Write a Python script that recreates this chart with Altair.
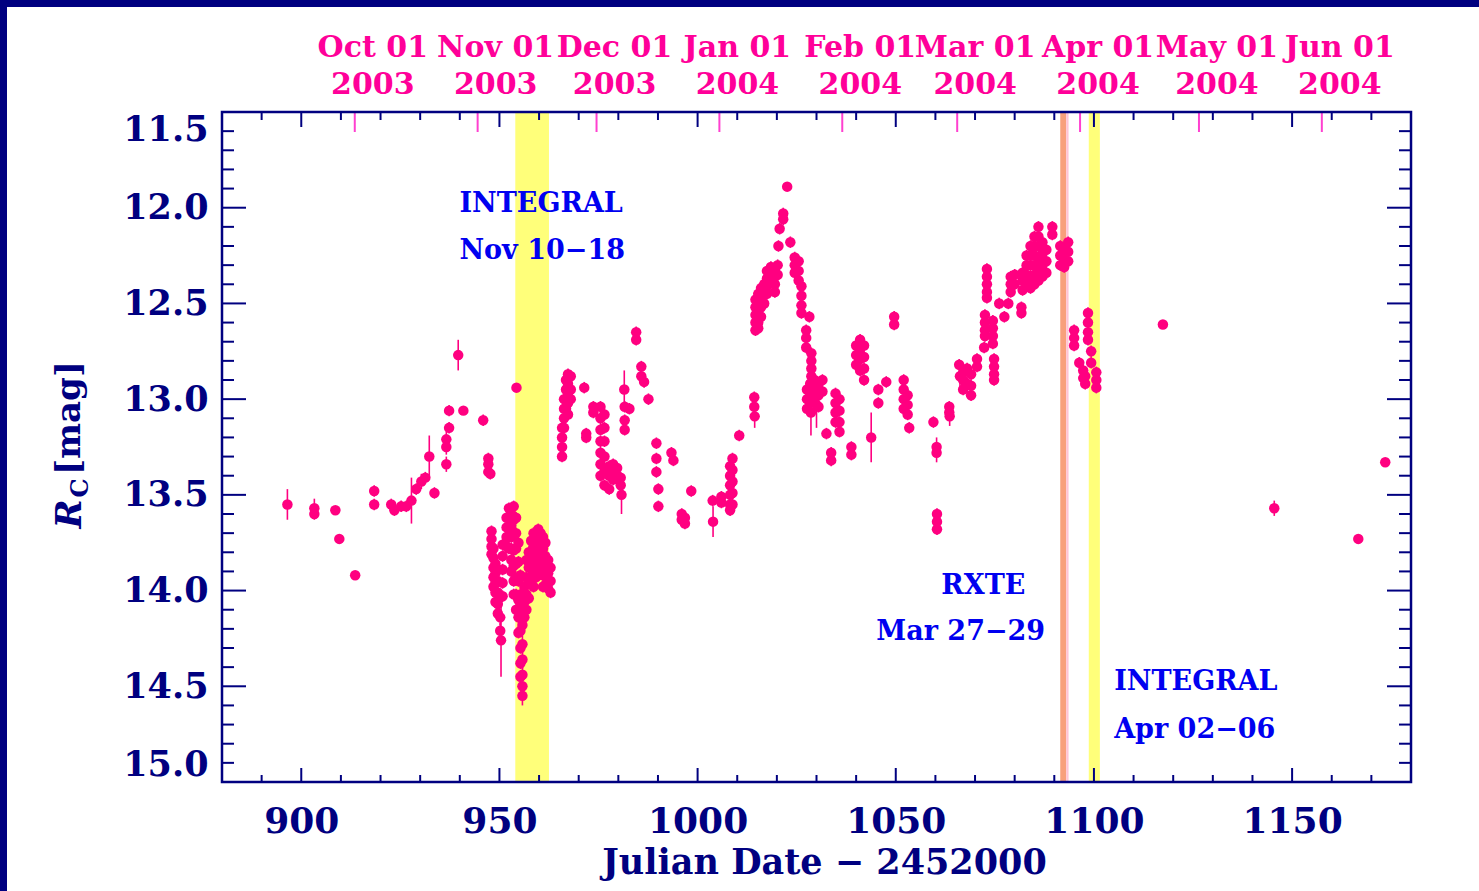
import altair as alt
import numpy as np
import pandas as pd

# ---------------------------------------------------------------------------
# Rc light curve.  Each night: (JD - 2452000, [Rc magnitudes], 1-sigma error)
# ---------------------------------------------------------------------------
PRE_OUTBURST = [
    (896.5, [13.55], 0.08),
    (903.3, [13.57], 0.05),
    (903.3, [13.60], 0.03),
    (908.6, [13.58], 0.02),
    (909.6, [13.73], 0.02),
    (913.6, [13.92], 0.02),
    (918.4, [13.48, 13.55], 0.03),
    (922.7, [13.55], 0.03),
    (923.5, [13.58], 0.03),
    (925.2, [13.56], 0.03),
    (926.5, [13.56], 0.03),
    (927.8, [13.53], 0.12),
    (929.0, [13.47], 0.03),
    (930.3, [13.43], 0.04),
    (931.3, [13.41], 0.03),
    (932.3, [13.30], 0.11),
    (933.6, [13.49], 0.03),
    (936.6, [13.21, 13.25, 13.34], 0.04),
    (937.3, [13.06, 13.15], 0.03),
    (939.6, [12.77], 0.08),
    (940.9, [13.06], 0.02),
    (945.9, [13.11], 0.03),
    (947.2, [13.31, 13.34, 13.38], 0.03),
    (947.7, [13.39], 0.03),
    (954.3, [12.94], 0.02),
]

DIP = [
    (948.0, [13.69, 13.73, 13.77, 13.81], 0.03),
    (948.5, [13.78, 13.83, 13.88, 13.93, 13.98], 0.03),
    (949.0, [13.86, 13.91, 13.96, 14.01, 14.06], 0.03),
    (949.6, [13.95, 14.01, 14.07, 14.12], 0.03),
    (950.2, [14.14, 14.21], 0.04),
    (950.4, [14.26], 0.19),
    (950.8, [13.76, 13.82, 13.89, 13.96, 14.03], 0.03),
    (951.8, [13.62, 13.67, 13.72, 13.77], 0.03),
    (952.4, [13.57, 13.62, 13.67, 13.72, 13.78], 0.03),
    (953.0, [13.60, 13.66, 13.72, 13.78, 13.84, 13.90], 0.03),
    (953.6, [13.56, 13.63, 13.71, 13.79, 13.87, 13.95, 14.02], 0.03),
    (954.2, [13.62, 13.70, 13.78, 13.86, 13.94, 14.02, 14.10], 0.03),
    (954.8, [13.75, 13.85, 13.95, 14.05, 14.14, 14.22], 0.03),
    (955.3, [13.92, 14.02, 14.12, 14.21, 14.30, 14.38, 14.45], 0.03),
    (955.8, [14.08, 14.18, 14.28, 14.36, 14.44, 14.50, 14.55], 0.05),
    (956.3, [13.98, 14.06, 14.14], 0.03),
    (956.8, [13.84, 13.93, 14.02, 14.10], 0.03),
    (957.4, [13.80, 13.88, 13.96, 14.04], 0.03),
    (958.0, [13.74, 13.81, 13.88, 13.95], 0.03),
    (958.6, [13.70, 13.77, 13.84, 13.91, 13.98], 0.03),
    (959.2, [13.72, 13.79, 13.86, 13.93], 0.03),
    (959.8, [13.68, 13.74, 13.80, 13.86, 13.92], 0.03),
    (960.4, [13.70, 13.76, 13.82, 13.88], 0.03),
    (961.0, [13.72, 13.78, 13.85, 13.92, 13.98], 0.03),
    (961.6, [13.75, 13.82, 13.90, 13.97], 0.03),
    (962.3, [13.84, 13.91, 13.99], 0.03),
    (962.9, [13.88, 13.95, 14.01], 0.03),
]

RECOVERY = [
    (965.8, [13.15, 13.20, 13.25, 13.30], 0.03),
    (966.3, [13.00, 13.05, 13.10, 13.15], 0.03),
    (966.8, [12.90, 12.95, 13.00, 13.05], 0.03),
    (967.3, [12.87, 12.92, 12.97, 13.02, 13.08], 0.03),
    (968.0, [12.88, 12.95, 13.00], 0.03),
    (971.4, [12.94], 0.03),
    (971.9, [13.18, 13.20], 0.03),
    (973.7, [13.04, 13.07], 0.03),
    (975.5, [13.04, 13.10, 13.16, 13.22, 13.28, 13.34, 13.40], 0.03),
    (976.5, [13.08, 13.15, 13.22, 13.30, 13.38, 13.45], 0.03),
    (977.7, [13.35, 13.40, 13.47], 0.03),
    (978.7, [13.34, 13.38, 13.42], 0.03),
    (979.7, [13.36, 13.40], 0.03),
    (980.6, [13.41, 13.45], 0.03),
    (980.8, [13.50], 0.10),
    (981.5, [12.95], 0.10),
    (981.6, [13.04, 13.11, 13.16], 0.03),
    (982.8, [13.05], 0.03),
    (984.5, [12.65, 12.69], 0.03),
    (985.8, [12.83, 12.88], 0.03),
    (986.5, [12.91], 0.03),
    (987.6, [13.00], 0.03),
    (989.6, [13.23, 13.31, 13.38], 0.03),
    (990.1, [13.47, 13.56], 0.03),
    (993.4, [13.28], 0.03),
    (993.9, [13.32], 0.03),
    (996.0, [13.60, 13.63], 0.03),
    (996.8, [13.62, 13.65], 0.03),
    (998.4, [13.48], 0.03),
    (1003.8, [13.53], 0.03),
    (1003.9, [13.64], 0.08),
    (1006.0, [13.51, 13.54], 0.03),
    (1008.2, [13.35, 13.40, 13.45, 13.50, 13.55, 13.58], 0.03),
    (1008.8, [13.31, 13.37, 13.43, 13.49, 13.55], 0.03),
    (1010.5, [13.19], 0.03),
]

OUTBURST = [
    (1014.3, [12.99, 13.04], 0.03),
    (1014.4, [13.09], 0.06),
    (1014.6, [12.48, 12.52, 12.56, 12.60, 12.64], 0.03),
    (1015.3, [12.45, 12.50, 12.55, 12.60, 12.63], 0.03),
    (1016.0, [12.42, 12.47, 12.52, 12.57], 0.03),
    (1016.8, [12.40, 12.45, 12.50], 0.03),
    (1017.5, [12.33, 12.37, 12.41, 12.45], 0.03),
    (1018.5, [12.31, 12.35, 12.39], 0.03),
    (1019.5, [12.32, 12.36, 12.40, 12.44], 0.03),
    (1020.2, [12.30, 12.35], 0.03),
    (1020.4, [12.20], 0.03),
    (1020.7, [12.11], 0.03),
    (1021.6, [12.03, 12.06], 0.03),
    (1022.6, [11.89], 0.02),
    (1023.4, [12.18], 0.03),
    (1024.5, [12.26, 12.30, 12.34], 0.03),
    (1025.5, [12.28, 12.33, 12.38], 0.03),
    (1026.2, [12.41, 12.46, 12.51, 12.55], 0.03),
    (1027.4, [12.64, 12.68, 12.73], 0.03),
    (1027.6, [12.95, 13.00, 13.05], 0.03),
    (1028.2, [12.57], 0.03),
    (1028.4, [12.92, 12.97, 13.02], 0.03),
    (1028.6, [13.07], 0.12),
    (1028.7, [12.76, 12.80, 12.84, 12.88], 0.03),
    (1029.5, [12.90, 12.95, 13.00], 0.03),
    (1030.0, [13.03], 0.12),
    (1030.5, [12.92, 12.98, 13.04], 0.03),
    (1031.5, [12.90, 12.96], 0.03),
    (1032.5, [13.18], 0.03),
    (1033.7, [13.28, 13.32], 0.03),
    (1034.8, [12.97, 13.02, 13.07, 13.12], 0.03),
    (1035.8, [13.00, 13.06, 13.12, 13.17], 0.03),
    (1038.8, [13.25, 13.29], 0.03),
    (1040.0, [12.72, 12.77, 12.82], 0.03),
    (1041.0, [12.69, 12.74, 12.79, 12.85], 0.03),
    (1042.0, [12.72, 12.78, 12.84, 12.90], 0.03),
    (1043.8, [13.20], 0.13),
    (1045.6, [12.95, 13.02], 0.03),
    (1047.6, [12.91], 0.03),
    (1049.6, [12.57, 12.61], 0.03),
    (1052.0, [12.90, 12.95, 13.00, 13.05], 0.03),
    (1053.0, [12.98, 13.03, 13.08], 0.03),
    (1053.4, [13.15], 0.03),
    (1059.5, [13.12], 0.03),
    (1060.3, [13.25, 13.28], 0.05),
    (1060.4, [13.60, 13.64, 13.68], 0.03),
    (1063.5, [13.04, 13.07], 0.03),
    (1063.6, [13.09], 0.05),
]

RISE = [
    (1066.0, [12.82], 0.03),
    (1066.2, [12.88], 0.08),
    (1067.0, [12.86, 12.90, 12.95], 0.03),
    (1068.0, [12.84, 12.92], 0.03),
    (1069.0, [12.87, 12.93, 12.98], 0.03),
    (1070.5, [12.79, 12.83], 0.03),
    (1072.3, [12.73], 0.03),
    (1072.5, [12.56, 12.60, 12.64, 12.67], 0.03),
    (1073.0, [12.32, 12.36, 12.40, 12.44, 12.47], 0.03),
    (1074.5, [12.59, 12.63, 12.67, 12.71], 0.03),
    (1074.8, [12.79, 12.83, 12.87, 12.90], 0.03),
    (1076.1, [12.50], 0.03),
    (1077.4, [12.57], 0.03),
    (1078.4, [12.50], 0.03),
    (1079.0, [12.36, 12.40, 12.44], 0.03),
    (1080.0, [12.35, 12.40], 0.03),
    (1081.7, [12.52, 12.55], 0.03),
    (1082.0, [12.34, 12.38, 12.43], 0.03),
    (1083.0, [12.25, 12.30, 12.35, 12.40], 0.03),
    (1084.0, [12.20, 12.25, 12.30, 12.36, 12.42], 0.03),
    (1085.0, [12.15, 12.20, 12.25, 12.30, 12.35, 12.40], 0.03),
    (1086.0, [12.10, 12.15, 12.20, 12.26, 12.32, 12.38], 0.03),
    (1087.0, [12.18, 12.24, 12.30, 12.36], 0.03),
    (1088.0, [12.22, 12.28, 12.34], 0.03),
    (1089.5, [12.10, 12.14], 0.03),
    (1091.5, [12.20, 12.25, 12.30], 0.03),
    (1092.5, [12.22, 12.27, 12.31], 0.03),
    (1093.5, [12.18, 12.23, 12.28], 0.03),
    (1095.0, [12.64, 12.68, 12.72], 0.03),
    (1096.3, [12.81], 0.03),
    (1097.3, [12.85, 12.89], 0.03),
    (1097.8, [12.88, 12.92], 0.03),
    (1098.5, [12.55, 12.60, 12.65, 12.69], 0.03),
    (1099.3, [12.75, 12.81], 0.03),
    (1100.6, [12.86, 12.90, 12.94], 0.03),
]

LATE = [
    (1117.4, [12.61], 0.02),
    (1145.5, [13.57], 0.04),
    (1166.7, [13.73], 0.02),
    (1173.5, [13.33], 0.02),
]

# Observation windows (JD - 2452000)
BAND_START = [954.0, 1091.5, 1093.0, 1098.7]
BAND_END = [962.5, 1093.0, 1093.6, 1101.5]
BAND_COLOR = ["#ffff7a", "#f8a07c", "#ffc4d6", "#ffff7a"]

# Labels of the observation windows
NOTE_TEXT = ["INTEGRAL", "Nov 10−18", "RXTE", "Mar 27−29", "INTEGRAL", "Apr 02−06"]
NOTE_JD = [939.9, 939.9, 1061.5, 1045.1, 1105.1, 1105.1]
NOTE_MAG = [12.02, 12.27, 14.02, 14.26, 14.52, 14.77]

# Calendar axis along the top
MONTH_JD = [913.5, 944.5, 974.5, 1005.5, 1036.5, 1065.5, 1096.5, 1126.5, 1157.5]
MONTH_NAME = ["Oct 01", "Nov 01", "Dec 01", "Jan 01", "Feb 01",
              "Mar 01", "Apr 01", "May 01", "Jun 01"]
MONTH_YEAR = ["2003", "2003", "2003", "2004", "2004",
              "2004", "2004", "2004", "2004"]

# Axis ticks
X_LABELS = [900, 950, 1000, 1050, 1100, 1150]
Y_LABELS = [11.5, 12.0, 12.5, 13.0, 13.5, 14.0, 14.5, 15.0]
X_DOMAIN = [880, 1180]
Y_DOMAIN = [11.5, 15.0]

# ---------------------------------------------------------------------------
W, H = 1189, 670
PAD = {"left": 222, "top": 112, "right": 68, "bottom": 109}
FONT = "DejaVu Serif"
NAVY = "#000080"
BLUE = "#0000f0"
PINK = "#ff0080"
MAGENTA = "#ff0099"
TICK_PINK = "#ff40d0"
X_TITLE = "Julian Date − 2452000"

rows = []
for segment in (PRE_OUTBURST, DIP, RECOVERY, OUTBURST, RISE, LATE):
    for jd, mags, err in segment:
        for m in mags:
            rows.append({"jd": jd, "rc": m, "lo": m - err, "hi": m + err})
lc = pd.DataFrame(rows)

bands = pd.DataFrame({"jd": BAND_START, "jd2": BAND_END, "color": BAND_COLOR})
notes = pd.DataFrame({"jd": NOTE_JD, "rc": NOTE_MAG, "label": NOTE_TEXT})
months = pd.DataFrame({"jd": MONTH_JD, "name": MONTH_NAME, "year": MONTH_YEAR})

x_major = pd.DataFrame({"jd": X_LABELS})
x_minor = pd.DataFrame({"jd": [v for v in range(880, 1181, 10) if v % 50 != 0]})
y_major = pd.DataFrame({"rc": Y_LABELS})
y_minor_vals = [round(v, 1) for v in np.arange(11.6, 15.0, 0.1)]
y_minor = pd.DataFrame({"rc": [v for v in y_minor_vals if round(v * 2) != v * 2]})
one = pd.DataFrame({"k": [0]})

xs = alt.Scale(domain=X_DOMAIN, nice=False, zero=False)
ys = alt.Scale(domain=Y_DOMAIN, nice=False, zero=False, reverse=True)

X_AXIS = alt.Axis(
    values=X_LABELS, format="d", ticks=False, tickSize=0, domain=False, grid=False,
    labelFont=FONT, labelFontSize=36, labelFontWeight="bold", labelColor=NAVY,
    labelPadding=22, titleFont=FONT, titleFontSize=35, titleFontWeight="bold",
    titleColor=NAVY, titlePadding=6, titleX=602, zindex=1,
)
Y_AXIS = alt.Axis(
    values=Y_LABELS, format=".1f", ticks=False, tickSize=0, domain=False, grid=False,
    labelFlush=True, labelFont=FONT, labelFontSize=35, labelFontWeight="bold",
    labelColor=NAVY, labelPadding=14, zindex=1,
)


def xq(field="jd:Q"):
    # every layer shares one x scale and the same bottom axis
    return alt.X(field, scale=xs, axis=X_AXIS, title=X_TITLE)


def yq(field="rc:Q"):
    # every layer shares one reversed magnitude scale and the same left axis
    return alt.Y(field, scale=ys, axis=Y_AXIS, title=None)


# Dark-blue page border (top and left)
border_top = alt.Chart(one).mark_rect(color=NAVY).encode(
    x=alt.value(-PAD["left"]), x2=alt.value(W + PAD["right"]),
    y=alt.value(-PAD["top"]), y2=alt.value(-PAD["top"] + 7),
)
border_left = alt.Chart(one).mark_rect(color=NAVY).encode(
    x=alt.value(-PAD["left"]), x2=alt.value(-PAD["left"] + 7),
    y=alt.value(-PAD["top"]), y2=alt.value(H + PAD["bottom"]),
)

band_layer = alt.Chart(bands).mark_rect().encode(
    x=xq(), x2="jd2:Q", y=alt.value(0), y2=alt.value(H),
    color=alt.Color("color:N", scale=None),
)

err_layer = alt.Chart(lc).mark_rule(color=PINK, strokeWidth=1.6).encode(
    x=xq(), y=yq("lo:Q"), y2="hi:Q",
)

pts_layer = alt.Chart(lc).mark_circle(color=PINK, size=110, opacity=1).encode(
    x=xq(), y=yq(),
)

note_layer = alt.Chart(notes).mark_text(
    align="left", baseline="alphabetic", font=FONT, fontSize=27,
    fontWeight="bold", color=BLUE,
).encode(x=xq(), y=yq(), text="label:N")

# Inward-pointing ticks on all four sides
bx_major = alt.Chart(x_major).mark_rule(color=NAVY, strokeWidth=2).encode(
    x=xq(), y=alt.value(H), y2=alt.value(H - 14))
bx_minor = alt.Chart(x_minor).mark_rule(color=NAVY, strokeWidth=2).encode(
    x=xq(), y=alt.value(H), y2=alt.value(H - 7))
tx_major = alt.Chart(x_major).mark_rule(color=NAVY, strokeWidth=2).encode(
    x=xq(), y=alt.value(0), y2=alt.value(15))
tx_minor = alt.Chart(x_minor).mark_rule(color=NAVY, strokeWidth=2).encode(
    x=xq(), y=alt.value(0), y2=alt.value(8))
ly_major = alt.Chart(y_major).mark_rule(color=NAVY, strokeWidth=2).encode(
    y=yq(), x=alt.value(0), x2=alt.value(24))
ly_minor = alt.Chart(y_minor).mark_rule(color=NAVY, strokeWidth=2).encode(
    y=yq(), x=alt.value(0), x2=alt.value(12))
ry_major = alt.Chart(y_major).mark_rule(color=NAVY, strokeWidth=2).encode(
    y=yq(), x=alt.value(W), x2=alt.value(W - 24))
ry_minor = alt.Chart(y_minor).mark_rule(color=NAVY, strokeWidth=2).encode(
    y=yq(), x=alt.value(W), x2=alt.value(W - 12))
month_ticks = alt.Chart(months).mark_rule(color=TICK_PINK, strokeWidth=2).encode(
    x=xq(), y=alt.value(0), y2=alt.value(20))

frame = alt.Chart(one).mark_rect(
    fillOpacity=0, stroke=NAVY, strokeWidth=2.5
).encode(x=alt.value(0), x2=alt.value(W), y=alt.value(0), y2=alt.value(H))

month_name = alt.Chart(months).mark_text(
    font=FONT, fontSize=30, fontWeight="bold", color=MAGENTA,
    baseline="middle", dx=18,
).encode(x=xq(), y=alt.value(-64), text="name:N")
month_year = alt.Chart(months).mark_text(
    font=FONT, fontSize=30, fontWeight="bold", color=MAGENTA,
    baseline="middle", dx=18,
).encode(x=xq(), y=alt.value(-27), text="year:N")

# Y-axis title: italic R with subscript C, then [mag]
title_r = alt.Chart(one).mark_text(
    text="R", font=FONT, fontSize=35, fontStyle="italic", fontWeight="bold",
    color=NAVY, angle=270, baseline="middle", align="center",
).encode(x=alt.value(-152), y=alt.value(402))
title_c = alt.Chart(one).mark_text(
    text="C", font=FONT, fontSize=24, fontWeight="bold",
    color=NAVY, angle=270, baseline="middle", align="center",
).encode(x=alt.value(-141), y=alt.value(376))
title_mag = alt.Chart(one).mark_text(
    text="[mag]", font=FONT, fontSize=34, fontWeight="bold",
    color=NAVY, angle=270, baseline="middle", align="center",
).encode(x=alt.value(-152), y=alt.value(306))

chart = alt.layer(
    border_top, border_left, band_layer, err_layer, pts_layer, note_layer,
    bx_major, bx_minor, tx_major, tx_minor, ly_major, ly_minor,
    ry_major, ry_minor, month_ticks, frame, month_name, month_year,
    title_r, title_c, title_mag,
).properties(
    width=W, height=H,
    autosize=alt.AutoSizeParams(type="none"),
    padding=PAD,
    background="white",
).configure_view(stroke=None)

chart.save("out.html", embed_options={"renderer": "svg", "actions": False})
